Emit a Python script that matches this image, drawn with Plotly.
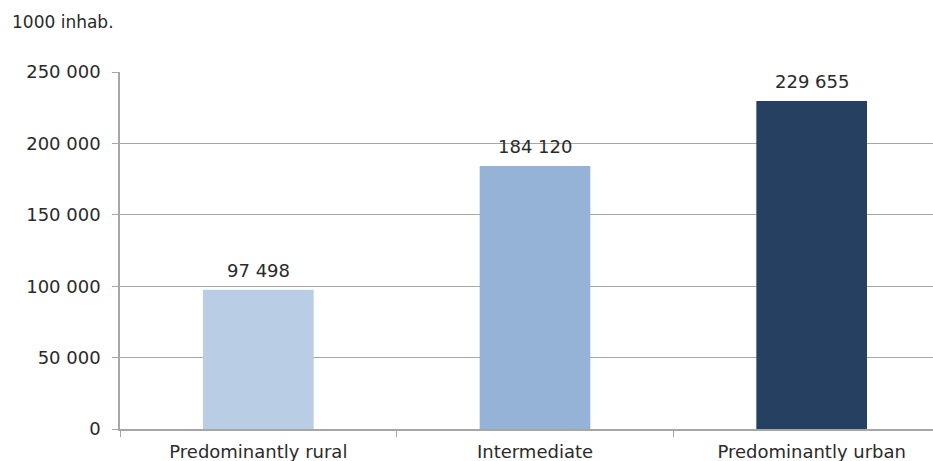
import plotly.graph_objects as go

categories = ["Predominantly rural", "Intermediate", "Predominantly urban"]
values = [97498, 184120, 229655]
colors = ["#b9cde5", "#95b3d7", "#254061"]
tick_vals = [0, 50000, 100000, 150000, 200000, 250000]
tick_text = ["0", "50 000", "100 000", "150 000", "200 000", "250 000"]
value_labels = ["97 498", "184 120", "229 655"]

FONT = "DejaVu Sans"
TXT = "#2a2a2a"
L, T, B = 120, 72, 32
W, H = 950, 461
PW, PH = W - L, H - T - B

fig = go.Figure()
fig.add_trace(go.Bar(
    x=categories, y=values, marker=dict(color=colors, line=dict(width=0)),
    width=0.4,
))

annotations = [dict(text="1000 inhab.", xref="paper", yref="paper", x=-(L - 10) / PW, y=1 + (T - 22) / PH,
                    xanchor="left", yanchor="middle", showarrow=False,
                    font=dict(family=FONT, size=17, color=TXT))]
for c, v, lab in zip(categories, values, value_labels):
    annotations.append(dict(x=c, y=v, xref="x", yref="y", text=lab, showarrow=False,
                            xanchor="center", yanchor="bottom", yshift=7,
                            font=dict(family=FONT, size=18, color=TXT)))

fig.update_layout(
    width=W, height=H,
    margin=dict(l=L, r=0, t=T, b=B),
    paper_bgcolor="white", plot_bgcolor="white",
    showlegend=False,
    font=dict(family=FONT, size=18, color=TXT),
    annotations=annotations,
)
fig.update_xaxes(
    range=[-0.5, 2.5], showline=True, linecolor="#a6a6a6", linewidth=1.5,
    ticks="outside", tickson="boundaries", ticklen=6, tickcolor="#a6a6a6",
    showgrid=False, tickfont=dict(size=18, color=TXT), ticklabelstandoff=6,
)
fig.update_yaxes(
    range=[0, 250000], tickvals=tick_vals, ticktext=tick_text,
    showline=True, linecolor="#a6a6a6", linewidth=1.5,
    ticks="outside", ticklen=6, tickcolor="#a6a6a6",
    showgrid=True, gridcolor="#a6a6a6", gridwidth=1, zeroline=False,
    tickfont=dict(size=18, color=TXT), ticklabelstandoff=8,
)

fig.write_html("out.html", config={"displayModeBar": False},
               post_script="document.body.style.margin='0';document.body.style.overflow='hidden';document.documentElement.style.overflow='hidden';")
